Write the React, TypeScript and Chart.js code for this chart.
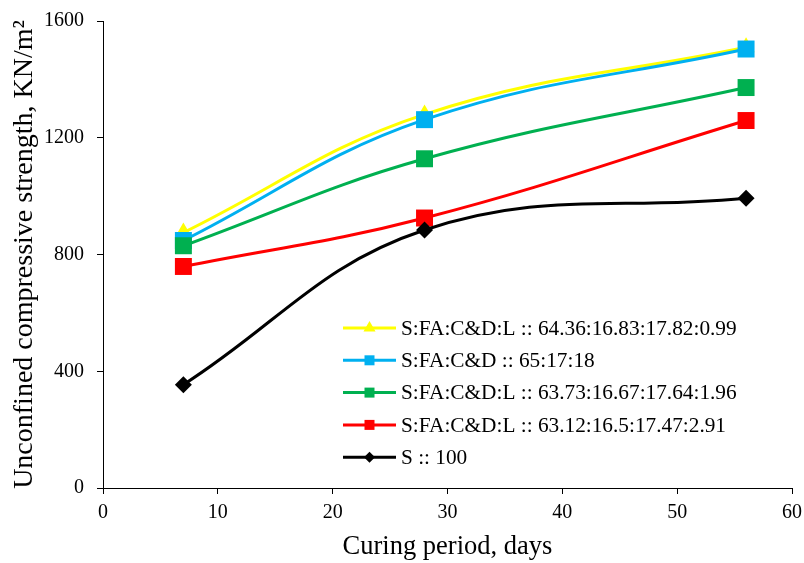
import { useEffect, useRef } from 'react';
import { Chart, registerables } from 'chart.js';

Chart.register(...registerables);

// Curing ages (days) at which the specimens were tested
const curingDays = [7, 28, 56];

// Unconfined compressive strength (kN/m²) for each mix
const mixL099Label = 'S:FA:C&D:L :: 64.36:16.83:17.82:0.99';
const mixL099Ucs = [875, 1280, 1510];

const mixBaseLabel = 'S:FA:C&D :: 65:17:18';
const mixBaseUcs = [848, 1262, 1504];

const mixL196Label = 'S:FA:C&D:L :: 63.73:16.67:17.64:1.96';
const mixL196Ucs = [830, 1128, 1372];

const mixL291Label = 'S:FA:C&D:L :: 63.12:16.5:17.47:2.91';
const mixL291Ucs = [759, 925, 1259];

const soilLabel = 'S :: 100';
const soilUcs = [354, 884, 993];

// Axis ranges
const xMin = 0;
const xMax = 60;
const xStep = 10;
const yMin = 0;
const yMax = 1600;
const yStep = 400;

const SERIF = '"Liberation Serif", "Times New Roman", serif';

type Marker = 'triangle' | 'rect' | 'rectRot';

interface Series {
  label: string;
  values: number[];
  color: string;
  marker: Marker;
  radius: number;
}

const series: Series[] = [
  { label: mixL099Label, values: mixL099Ucs, color: '#FFFF00', marker: 'triangle', radius: 10 },
  { label: mixBaseLabel, values: mixBaseUcs, color: '#00B0F0', marker: 'rect', radius: 12 },
  { label: mixL196Label, values: mixL196Ucs, color: '#00B050', marker: 'rect', radius: 12 },
  { label: mixL291Label, values: mixL291Ucs, color: '#FF0000', marker: 'rect', radius: 12 },
  { label: soilLabel, values: soilUcs, color: '#000000', marker: 'rectRot', radius: 8.5 },
];

// Small marker used inside the legend swatches
function drawLegendMarker(ctx: CanvasRenderingContext2D, marker: Marker, x: number, y: number, color: string) {
  ctx.save();
  ctx.fillStyle = color;
  ctx.beginPath();
  if (marker === 'triangle') {
    const r = 7;
    ctx.moveTo(x, y - r);
    ctx.lineTo(x + r * 0.866, y + r * 0.5);
    ctx.lineTo(x - r * 0.866, y + r * 0.5);
    ctx.closePath();
  } else if (marker === 'rect') {
    const h = 5;
    ctx.rect(x - h, y - h, 2 * h, 2 * h);
  } else {
    const r = 5.5;
    ctx.moveTo(x - r, y);
    ctx.lineTo(x, y - r);
    ctx.lineTo(x + r, y);
    ctx.lineTo(x, y + r);
    ctx.closePath();
  }
  ctx.fill();
  ctx.restore();
}

// Legend drawn inside the plot area, lower right
const insideLegend = {
  id: 'insideLegend',
  afterDraw(chart: Chart) {
    const { ctx, chartArea } = chart;
    const lineStart = chartArea.left + 240;
    const lineEnd = lineStart + 53;
    const textX = lineEnd + 5;
    const firstRowY = chartArea.top + 307;
    const rowGap = 32.3;
    ctx.save();
    ctx.font = `21.3px ${SERIF}`;
    ctx.textBaseline = 'middle';
    ctx.textAlign = 'left';
    series.forEach((s, i) => {
      const y = firstRowY + i * rowGap;
      ctx.strokeStyle = s.color;
      ctx.lineWidth = 3;
      ctx.beginPath();
      ctx.moveTo(lineStart, y);
      ctx.lineTo(lineEnd, y);
      ctx.stroke();
      drawLegendMarker(ctx, s.marker, (lineStart + lineEnd) / 2, y, s.color);
      ctx.fillStyle = '#000000';
      ctx.fillText(s.label, textX, y + 1);
    });
    ctx.restore();
  },
};

export default function App() {
  const canvasRef = useRef<HTMLCanvasElement | null>(null);

  useEffect(() => {
    const canvas = canvasRef.current;
    if (!canvas) return;

    const datasets = series.map((s, i) => ({
      label: s.label,
      data: curingDays.map((d, j) => ({ x: d, y: s.values[j] })),
      borderColor: s.color,
      backgroundColor: s.color,
      borderWidth: 3,
      tension: 0.4,
      pointStyle: s.marker,
      pointRadius: s.radius,
      pointBorderWidth: 0,
      pointBackgroundColor: s.color,
      order: series.length - i,
      clip: false as const,
    }));

    const chart = new Chart(canvas, {
      type: 'line',
      data: { datasets },
      plugins: [insideLegend],
      options: {
        animation: false,
        responsive: false,
        devicePixelRatio: 1,
        layout: { padding: { left: 0, top: 21, right: 11, bottom: 0 } },
        plugins: {
          legend: { display: false },
          tooltip: { enabled: false },
        },
        scales: {
          x: {
            type: 'linear',
            min: xMin,
            max: xMax,
            afterFit: (scale: any) => {
              scale.height = 75;
              scale.paddingLeft = 0;
              scale.paddingRight = 0;
            },
            ticks: {
              stepSize: xStep,
              color: '#000000',
              padding: 7,
              font: { family: SERIF, size: 20 },
              callback: (v: any) => String(v),
            },
            grid: {
              drawOnChartArea: false,
              drawTicks: true,
              tickLength: 6,
              color: '#000000',
              lineWidth: 1,
            },
            border: { display: true, color: '#000000', width: 1 },
            title: {
              display: true,
              text: 'Curing period, days',
              color: '#000000',
              font: { family: SERIF, size: 26.5 },
              padding: { top: 0, bottom: 0 },
            },
          },
          y: {
            type: 'linear',
            min: yMin,
            max: yMax,
            afterFit: (scale: any) => {
              scale.width = 103;
              scale.paddingTop = 0;
              scale.paddingBottom = 0;
            },
            ticks: {
              stepSize: yStep,
              color: '#000000',
              padding: 13,
              font: { family: SERIF, size: 20 },
              callback: (v: any) => String(v),
            },
            grid: {
              drawOnChartArea: false,
              drawTicks: true,
              tickLength: 6,
              color: '#000000',
              lineWidth: 1,
            },
            border: { display: true, color: '#000000', width: 1 },
            title: {
              display: true,
              text: 'Unconfined compressive strength, KN/m²',
              color: '#000000',
              font: { family: SERIF, size: 28 },
              padding: { top: 8, bottom: 0 },
            },
          },
        },
      },
    });

    return () => chart.destroy();
  }, []);

  return (
    <div style={{ position: 'fixed', left: 0, top: 0, width: 804, height: 563, background: '#ffffff' }}>
      <canvas ref={canvasRef} width={804} height={563} />
    </div>
  );
}
